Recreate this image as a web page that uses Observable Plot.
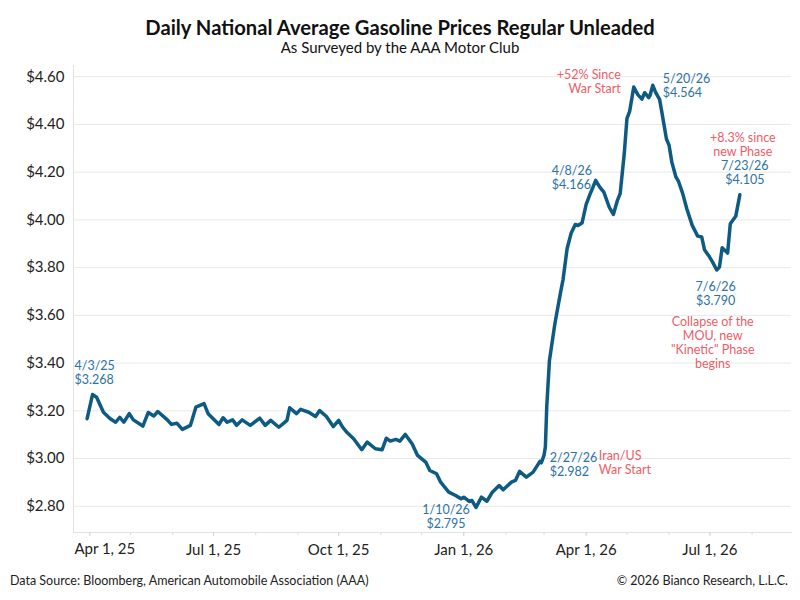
<!DOCTYPE html>
<html><head><meta charset="utf-8">
<script src="https://cdn.jsdelivr.net/npm/d3@7"></script>
<script src="https://cdn.jsdelivr.net/npm/@observablehq/plot@0.6"></script>
<style>
body{margin:0;background:#fff;font-family:Lato,sans-serif;}
#wrap{position:relative;width:800px;height:600px;overflow:hidden;background:#fff;}
#chart{position:absolute;left:0;top:0;}
.t{position:absolute;white-space:nowrap;}
#title{left:0;width:800px;text-align:center;top:16px;font-size:20.2px;line-height:22px;font-weight:700;color:#111;}
#sub{left:0;width:800px;text-align:center;top:38px;font-size:15px;line-height:18px;color:#111;}
#src{left:10px;top:573px;font-size:12.5px;line-height:16px;color:#222;}
#copy{right:12px;top:573px;font-size:12.5px;line-height:16px;color:#222;}
</style></head><body>
<div id="wrap">
<div id="chart"></div>
<div class="t" id="title">Daily National Average Gasoline Prices Regular Unleaded</div>
<div class="t" id="sub">As Surveyed by the AAA Motor Club</div>
<div class="t" id="src">Data Source: Bloomberg, American Automobile Association (AAA)</div>
<div class="t" id="copy">© 2026 Bianco Research, L.L.C.</div>
</div>
<script>
const dates = [
"2025-03-30","2025-04-03","2025-04-06","2025-04-11","2025-04-16","2025-04-20","2025-04-23","2025-04-26","2025-04-30",
"2025-05-03","2025-05-10","2025-05-14","2025-05-18","2025-05-21","2025-05-28","2025-05-31","2025-06-04","2025-06-08",
"2025-06-14","2025-06-18","2025-06-24","2025-06-27","2025-07-05","2025-07-08","2025-07-11","2025-07-15","2025-07-18",
"2025-07-22","2025-07-28","2025-08-04","2025-08-08","2025-08-12","2025-08-18","2025-08-24","2025-08-26","2025-08-31",
"2025-09-03","2025-09-09","2025-09-14","2025-09-17","2025-09-22","2025-09-27","2025-10-01","2025-10-04","2025-10-07",
"2025-10-12","2025-10-18","2025-10-22","2025-10-28","2025-11-02","2025-11-05","2025-11-08","2025-11-12","2025-11-15",
"2025-11-19","2025-11-24","2025-11-28","2025-12-04","2025-12-07","2025-12-12","2025-12-15","2025-12-19","2025-12-21",
"2025-12-26","2025-12-30","2026-01-01","2026-01-05","2026-01-07","2026-01-10","2026-01-14","2026-01-18","2026-01-22",
"2026-01-27","2026-01-30","2026-02-05","2026-02-08","2026-02-11","2026-02-16","2026-02-21","2026-02-26","2026-02-27",
"2026-03-01","2026-03-02","2026-03-03","2026-03-05","2026-03-09","2026-03-13","2026-03-15","2026-03-18","2026-03-21",
"2026-03-24","2026-03-26","2026-03-29","2026-04-01","2026-04-04","2026-04-06","2026-04-08","2026-04-11","2026-04-14",
"2026-04-18","2026-04-21","2026-04-24","2026-04-26","2026-04-29","2026-05-01","2026-05-03","2026-05-06","2026-05-09",
"2026-05-12","2026-05-14","2026-05-17","2026-05-18","2026-05-20","2026-05-22","2026-05-25","2026-05-27","2026-05-30",
"2026-06-01","2026-06-03","2026-06-06","2026-06-08","2026-06-11","2026-06-14","2026-06-18","2026-06-22","2026-06-25",
"2026-06-27","2026-06-30","2026-07-03","2026-07-06","2026-07-08","2026-07-10","2026-07-14","2026-07-16","2026-07-20",
"2026-07-23"];
const prices = [
3.167,3.268,3.257,3.194,3.167,3.152,3.173,3.152,3.188,
3.162,3.136,3.193,3.178,3.197,3.162,3.143,3.148,3.122,
3.139,3.215,3.230,3.188,3.143,3.171,3.152,3.162,3.139,
3.162,3.139,3.169,3.139,3.160,3.131,3.160,3.213,3.188,
3.206,3.194,3.176,3.201,3.176,3.134,3.160,3.131,3.110,
3.083,3.037,3.069,3.041,3.037,3.085,3.073,3.080,3.073,
3.101,3.062,3.013,2.985,2.950,2.936,2.901,2.873,2.859,
2.845,2.831,2.838,2.820,2.824,2.795,2.838,2.821,2.859,
2.887,2.869,2.901,2.908,2.946,2.922,2.943,2.988,2.982,
3.013,3.048,3.215,3.411,3.565,3.691,3.750,3.880,3.945,
3.981,3.977,3.987,4.065,4.110,4.137,4.166,4.137,4.116,
4.053,4.023,4.082,4.110,4.277,4.425,4.455,4.557,4.525,
4.506,4.533,4.512,4.522,4.564,4.535,4.505,4.440,4.340,
4.312,4.242,4.180,4.160,4.110,4.047,3.977,3.932,3.928,
3.875,3.851,3.823,3.790,3.802,3.883,3.861,3.984,4.015,
4.105];

const yTicks = [2.8, 3.0, 3.2, 3.4, 3.6, 3.8, 4.0, 4.2, 4.4, 4.6];
const xTickDates = ["2025-04-01","2025-07-01","2025-10-01","2026-01-01","2026-04-01","2026-07-01"];
const calloutDates = ["2025-04-03","2026-01-10","2026-02-27","2026-04-08","2026-05-20","2026-07-06","2026-07-23"];
const calloutPrices = [3.268, 2.795, 2.982, 4.166, 4.564, 3.790, 4.105];
const noteTexts = ["Iran/US\nWar Start", "+52% Since\nWar Start", "Collapse of the\nMOU, new\n\"Kinetic\" Phase\nbegins", "+8.3% since\nnew Phase"];
const noteCallout = [2, 4, 5, 6];

const data = dates.map((d, i) => ({date: new Date(d), price: prices[i]}));
const xTicks = xTickDates.map(d => new Date(d));
const minorTicks = d3.utcMonth.range(new Date("2025-04-01"), new Date("2026-09-01"));
const fmtTick = d => d3.utcFormat("%b %-d, %y")(d);
const fmtDate = d3.utcFormat("%-m/%-d/%y");
const callouts = calloutDates.map((d, i) => ({date: new Date(d), price: calloutPrices[i],
  label: fmtDate(new Date(d)) + "\n$" + calloutPrices[i].toFixed(3)}));

const BLUE = "#2b72a6", RED = "#ee5d68";
const cStyle = [
  {dx: -18, dy: -22, a: "start"},
  {dx: -30, dy: 9, a: "middle"},
  {dx: 8.5, dy: 1.5, a: "start"},
  {dx: -44, dy: -3, a: "start"},
  {dx: 10, dy: 0.6, a: "start"},
  {dx: -1, dy: 24, a: "middle"},
  {dx: 5, dy: -22.7, a: "middle"}
];
const nStyle = [
  {dx: 57.5, dy: 0, a: "start"},
  {dx: -32, dy: -3.6, a: "end"},
  {dx: -4, dy: 72.4, a: "middle"},
  {dx: 3, dy: -50.7, a: "middle"}
];

const calloutMarks = callouts.map((c, i) => Plot.text([c], {
  x: "date", y: "price", text: "label", dx: cStyle[i].dx, dy: cStyle[i].dy,
  textAnchor: cStyle[i].a, lineAnchor: "middle", fill: BLUE, fontSize: 12.5, lineHeight: 1.12
}));
const noteMarks = noteTexts.map((t, j) => Plot.text([callouts[noteCallout[j]]], {
  x: "date", y: "price", text: () => t, dx: nStyle[j].dx, dy: nStyle[j].dy,
  textAnchor: nStyle[j].a, lineAnchor: "middle", fill: RED, fontSize: 12.5, lineHeight: 1.12
}));

const chart = Plot.plot({
  width: 800, height: 600,
  marginTop: 65, marginBottom: 68, marginLeft: 73, marginRight: 9,
  style: {fontFamily: "Lato, sans-serif", fontSize: "15px", background: "transparent", color: "#222", overflow: "visible"},
  x: {type: "utc", domain: [new Date("2025-03-20"), new Date("2026-08-30")]},
  y: {domain: [2.69, 4.647]},
  marks: [
    Plot.gridY(yTicks, {stroke: "#e8e8e8", strokeOpacity: 1}),
    Plot.frame({anchor: "left", stroke: "#e2e2e2"}),
    Plot.frame({anchor: "bottom", stroke: "#e2e2e2"}),
    Plot.axisY(yTicks, {tickSize: 0, tickPadding: 9, tickFormat: d => "$" + d.toFixed(2), fill: "#222", label: null}),
    Plot.axisX(minorTicks, {tickSize: 3, tickFormat: () => "", stroke: "#dcdcdc", label: null}),
    Plot.axisX(xTicks.slice(1), {tickSize: 4, tickPadding: 8, tickFormat: fmtTick, stroke: "#d6d6d6", fill: "#222", label: null}),
    Plot.axisX(xTicks.slice(0, 1), {tickSize: 4, tickPadding: 8, tickFormat: () => "", stroke: "#d6d6d6", label: null}),
    Plot.text(xTicks.slice(0, 1), {x: d => d, frameAnchor: "bottom", text: fmtTick, dx: 15, dy: 17, lineAnchor: "middle", fill: "#222", fontSize: 15}),
    Plot.line(data, {x: "date", y: "price", stroke: "#0d5a82", strokeWidth: 3.5, strokeLinejoin: "round", strokeLinecap: "round"}),
    ...calloutMarks,
    ...noteMarks
  ]
});
document.getElementById("chart").appendChild(chart);
</script>
</body></html>
